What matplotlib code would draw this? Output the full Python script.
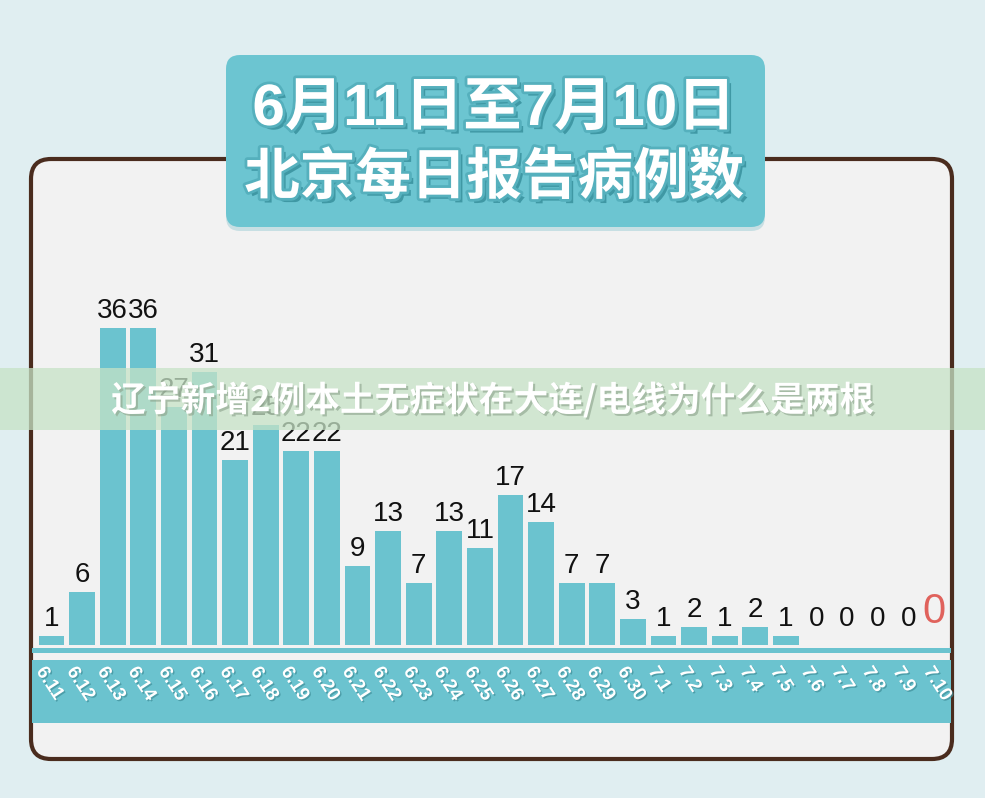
import matplotlib
matplotlib.use('Agg')
import matplotlib.pyplot as plt
from matplotlib.patches import FancyBboxPatch, Rectangle
import matplotlib.patheffects as pe
import matplotlib.transforms as mtransforms

# ---------------- data ----------------
dates = ['6.11', '6.12', '6.13', '6.14', '6.15', '6.16', '6.17', '6.18', '6.19', '6.20',
         '6.21', '6.22', '6.23', '6.24', '6.25', '6.26', '6.27', '6.28', '6.29', '6.30',
         '7.1', '7.2', '7.3', '7.4', '7.5', '7.6', '7.7', '7.8', '7.9', '7.10']
cases = [1, 6, 36, 36, 27, 31, 21, 25, 22, 22,
         9, 13, 7, 13, 11, 17, 14, 7, 7, 3,
         1, 2, 1, 2, 1, 0, 0, 0, 0, 0]
title_lines = ['6月11日至7月10日', '北京每日报告病例数']
banner_text = '辽宁新增2例本土无症状在大连/电线为什么是两根'

# ---------------- style ----------------
W, H = 985, 798
TEAL = '#6bc3cf'
CJK = ['Noto Sans CJK SC', 'DejaVu Sans']
TITLE_FONT = ['Liberation Sans', 'Noto Sans CJK SC', 'DejaVu Sans']

fig = plt.figure(figsize=(W / 100, H / 100), dpi=100)
fig.patch.set_facecolor('#e0eef1')


def px_axes(z):
    a = fig.add_axes([0, 0, 1, 1], zorder=z)
    a.set_xlim(0, W)
    a.set_ylim(H, 0)
    a.axis('off')
    a.patch.set_alpha(0)
    return a


# background layer: panel, separator line, label band
bg = px_axes(0)
bg.add_patch(FancyBboxPatch((31, 159), 921, 600,
                            boxstyle='round,pad=0,rounding_size=20',
                            fc='#f2f2f2', ec='#4a2c1e', lw=3))
bg.add_patch(Rectangle((32, 648), 919, 5, fc=TEAL, lw=0))
bg.add_patch(Rectangle((32, 660), 919, 63, fc=TEAL, lw=0))

# bar layer
c0, step = 51.5, 30.6
base_px, top_px = 645, 285
unit = 317 / 36.0
ax = fig.add_axes([32 / W, (H - base_px) / H, 920 / W, (base_px - top_px) / H], zorder=1)
ax.patch.set_alpha(0)
ax.set_xlim((32 - c0) / step, (952 - c0) / step)
ax.set_ylim(0, (base_px - top_px) / unit)
ax.axis('off')

x = list(range(len(dates)))
ax.bar(x, cases, width=0.84, color=TEAL, lw=0)

for i, v in enumerate(cases):
    last = (i == len(cases) - 1)
    ax.text(i - (0.15 if last else 0), max(v, 1) + 0.45, str(v), ha='center', va='bottom',
            fontsize=30 if last else 20, family='Liberation Sans',
            color='#e0625c' if last else '#111111')

trans = mtransforms.blended_transform_factory(ax.transData, ax.transAxes)
for i, d in enumerate(dates):
    ax.text(i - 0.15, -0.053, d, transform=trans, rotation=-57,
            rotation_mode='anchor', ha='left', va='top',
            fontsize=13.5, fontweight='bold', family='Liberation Sans',
            color='white', clip_on=False,
            path_effects=[pe.SimplePatchShadow(offset=(1, -1), shadow_rgbFace='#3f8f9a', alpha=0.7),
                          pe.Normal()])

# overlay layer: title badge and banner
ov = px_axes(2)
ov.add_patch(FancyBboxPatch((226, 59), 539, 172,
                            boxstyle='round,pad=0,rounding_size=14',
                            fc='#c7dfe3', ec='none'))
ov.add_patch(FancyBboxPatch((226, 55), 539, 172,
                            boxstyle='round,pad=0,rounding_size=14',
                            fc='#6cc5d1', ec='none'))
title_fx = [pe.SimplePatchShadow(offset=(3, -3), shadow_rgbFace='#3a93a0', alpha=0.9),
            pe.Stroke(linewidth=4, foreground='#55b0bd'),
            pe.Normal()]
ov.text(494, 110, title_lines[0], ha='center', va='center', fontsize=42,
        fontweight='bold', family=TITLE_FONT, color='white', path_effects=title_fx)
ov.text(494, 178, title_lines[1], ha='center', va='center', fontsize=40,
        fontweight='bold', family=CJK, color='white', path_effects=title_fx)

ov.add_patch(Rectangle((0, 368), W, 62, fc='#c6e3c6', alpha=0.75, lw=0))
ov.text(493, 400, banner_text, ha='center', va='center', fontsize=25,
        fontweight='bold', family=CJK, color='white',
        path_effects=[pe.SimplePatchShadow(offset=(1.5, -1.5), shadow_rgbFace='#8aa08a', alpha=0.6),
                      pe.Normal()])

fig.savefig('out.png', dpi=100, facecolor=fig.get_facecolor())
